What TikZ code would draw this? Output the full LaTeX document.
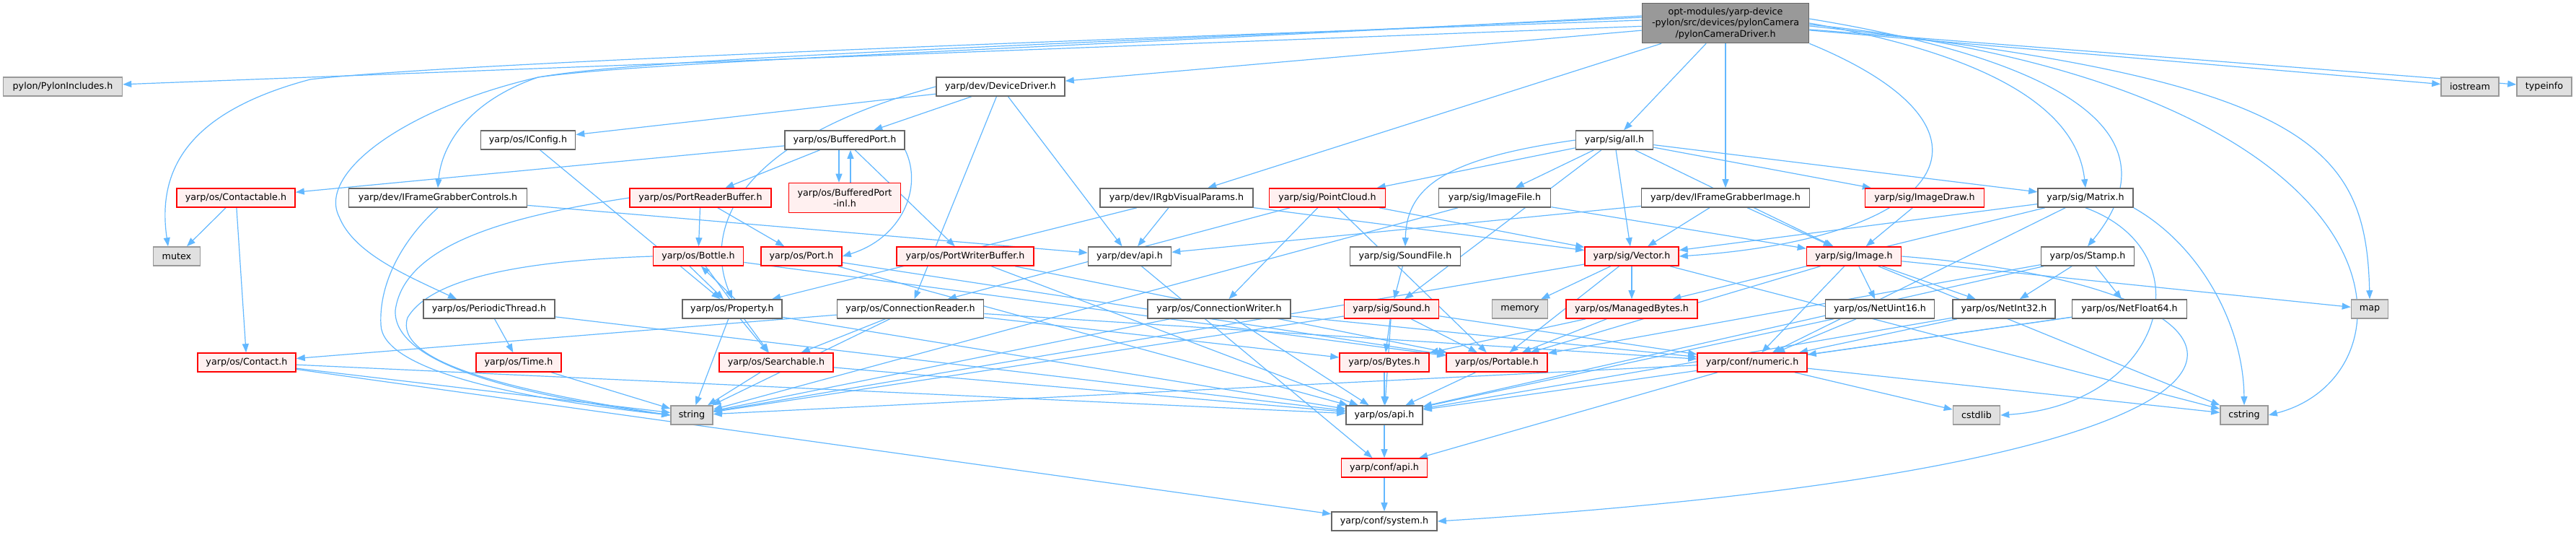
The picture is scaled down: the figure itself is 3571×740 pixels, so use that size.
\documentclass[tikz,border=0pt]{standalone}
\usepackage{fontspec}
\setmainfont{DejaVu Sans}
\usetikzlibrary{arrows.meta,backgrounds}
\definecolor{edgeblue}{RGB}{99,184,255}
\definecolor{hdrline}{RGB}{102,102,102}
\definecolor{redfill}{RGB}{255,240,240}
\definecolor{sysfill}{RGB}{224,224,224}
\definecolor{sysline}{RGB}{153,153,153}
\definecolor{mainfill}{RGB}{153,153,153}
\tikzset{
  hdr/.style={draw=hdrline, fill=white, line width=1.6pt, minimum height=26pt,
    inner sep=2pt, font=\fontsize{12.7}{15.5}\selectfont},
  redhdr/.style={hdr, draw=red, fill=redfill},
  syshdr/.style={hdr, draw=sysline, fill=sysfill},
  mainhdr/.style={hdr, fill=mainfill, align=center},
  dep/.style={edgeblue, line width=1.2pt, -{Triangle[length=12pt,width=9pt]}}
}
\begin{document}
\begin{tikzpicture}[x=1pt,y=-1pt]
  \useasboundingbox (0,0) rectangle (3571,740);
  % Wurzel
  \node[mainhdr, minimum width=231pt, minimum height=55pt] (main) at (2392,32)
    {opt-modules/yarp-device\\-pylon/src/devices/pylonCamera\\/pylonCameraDriver.h};
  % Ebene 1
  \node[syshdr, minimum width=165pt] (pylon) at (87,120) {pylon/PylonIncludes.h};
  \node[hdr, minimum width=178pt] (dd) at (1387,120) {yarp/dev/DeviceDriver.h};
  \node[syshdr, minimum width=80pt] (iostream) at (3424,120) {iostream};
  \node[syshdr, minimum width=76pt] (typeinfo) at (3527,120) {typeinfo};
  % Ebene 2
  \node[hdr, minimum width=131pt] (iconfig) at (732,194) {yarp/os/IConfig.h};
  \node[hdr, minimum width=166pt] (bport) at (1171,194) {yarp/os/BufferedPort.h};
  \node[hdr, minimum width=107pt] (sigall) at (2238,194) {yarp/sig/all.h};
  % Ebene 3
  \node[redhdr, minimum width=164pt] (contactable) at (327,274) {yarp/os/Contactable.h};
  \node[hdr, minimum width=247pt] (fgcontrols) at (607,274) {yarp/dev/IFrameGrabberControls.h};
  \node[redhdr, minimum width=196pt] (preader) at (971,274) {yarp/os/PortReaderBuffer.h};
  \node[redhdr, minimum width=155pt, minimum height=41pt, align=center] (bportinl) at (1171,274)
    {yarp/os/BufferedPort\\-inl.h};
  \node[hdr, minimum width=212pt] (rgbvis) at (1631,274) {yarp/dev/IRgbVisualParams.h};
  \node[redhdr, minimum width=161pt] (pointcloud) at (1840,274) {yarp/sig/PointCloud.h};
  \node[hdr, minimum width=155pt] (imagefile) at (2072,274) {yarp/sig/ImageFile.h};
  \node[hdr, minimum width=233pt] (fgimage) at (2392,274) {yarp/dev/IFrameGrabberImage.h};
  \node[redhdr, minimum width=165pt] (imagedraw) at (2668,274) {yarp/sig/ImageDraw.h};
  \node[hdr, minimum width=132pt] (matrix) at (2891,274) {yarp/sig/Matrix.h};
  % Ebene 4
  \node[syshdr, minimum width=65pt] (mutex) at (245,355) {mutex};
  \node[redhdr, minimum width=125pt] (bottle) at (968,355) {yarp/os/Bottle.h};
  \node[redhdr, minimum width=112pt] (port) at (1111,355) {yarp/os/Port.h};
  \node[redhdr, minimum width=190pt] (pwriter) at (1338,355) {yarp/os/PortWriterBuffer.h};
  \node[hdr, minimum width=115pt] (devapi) at (1566,355) {yarp/dev/api.h};
  \node[hdr, minimum width=153pt] (soundfile) at (1948,355) {yarp/sig/SoundFile.h};
  \node[redhdr, minimum width=130pt] (vector) at (2262,355) {yarp/sig/Vector.h};
  \node[redhdr, minimum width=131pt] (image) at (2570,355) {yarp/sig/Image.h};
  \node[hdr, minimum width=129pt] (stamp) at (2894,355) {yarp/os/Stamp.h};
  % Ebene 5
  \node[hdr, minimum width=182pt] (periodic) at (678,428) {yarp/os/PeriodicThread.h};
  \node[hdr, minimum width=138pt] (property) at (1015,428) {yarp/os/Property.h};
  \node[hdr, minimum width=203pt] (creader) at (1262,428) {yarp/os/ConnectionReader.h};
  \node[hdr, minimum width=198pt] (cwriter) at (1690,428) {yarp/os/ConnectionWriter.h};
  \node[redhdr, minimum width=131pt] (sound) at (1929,428) {yarp/sig/Sound.h};
  \node[syshdr, minimum width=77pt] (memory) at (2107,428) {memory};
  \node[redhdr, minimum width=182pt] (managed) at (2262,428) {yarp/os/ManagedBytes.h};
  \node[hdr, minimum width=151pt] (netuint16) at (2606,428) {yarp/os/NetUint16.h};
  \node[hdr, minimum width=142pt] (netint32) at (2778,428) {yarp/os/NetInt32.h};
  \node[hdr, minimum width=159pt] (netfloat64) at (2952,428) {yarp/os/NetFloat64.h};
  \node[syshdr, minimum width=51pt] (map) at (3285,428) {map};
  % Ebene 6
  \node[redhdr, minimum width=136pt] (contact) at (342,502) {yarp/os/Contact.h};
  \node[redhdr, minimum width=118pt] (time) at (719,502) {yarp/os/Time.h};
  \node[redhdr, minimum width=158pt] (searchable) at (1076,502) {yarp/os/Searchable.h};
  \node[redhdr, minimum width=124pt] (bytes) at (1919,502) {yarp/os/Bytes.h};
  \node[redhdr, minimum width=140pt] (portable) at (2075,502) {yarp/os/Portable.h};
  \node[redhdr, minimum width=152pt] (numeric) at (2429,502) {yarp/conf/numeric.h};
  % Ebene 7-9
  \node[syshdr, minimum width=58pt] (string) at (959,575) {string};
  \node[hdr, minimum width=106pt] (osapi) at (1919,575) {yarp/os/api.h};
  \node[syshdr, minimum width=65pt] (cstdlib) at (2740,575) {cstdlib};
  \node[syshdr, minimum width=66pt] (cstring) at (3111,575) {cstring};
  \node[redhdr, minimum width=119pt] (confapi) at (1919,648) {yarp/conf/api.h};
  \node[hdr, minimum width=146pt] (system) at (1919,722) {yarp/conf/system.h};

  \begin{pgfonlayer}{background}
  % gerade Kanten
  \foreach \a/\b in {main/pylon, main/dd, main/rgbvis, main/sigall, main/fgimage,
      main/iostream, main/typeinfo, dd/iconfig, dd/bport, dd/devapi, dd/creader,
      iconfig/property, bport/contactable, bport/preader, bport/pwriter,
      preader/bottle, preader/port, contactable/mutex, contactable/contact,
      fgcontrols/devapi, rgbvis/devapi, rgbvis/property, rgbvis/vector,
      pointcloud/vector, pointcloud/creader, pointcloud/cwriter, pointcloud/portable,
      imagefile/image, imagefile/string, fgimage/vector, fgimage/image, fgimage/devapi,
      imagedraw/image, sigall/pointcloud, sigall/imagefile, sigall/vector, sigall/image,
      sigall/imagedraw, sigall/matrix, sigall/sound, bottle/searchable,
      bottle/portable, port/osapi, port/portable, pwriter/portable, pwriter/osapi,
      devapi/confapi, soundfile/sound, vector/memory, vector/managed, vector/portable,
      vector/string, vector/cstring, image/netuint16, image/netint32, image/portable,
      image/numeric, image/map, image/cstring, stamp/netint32, stamp/netfloat64,
      stamp/portable, stamp/osapi, periodic/time, periodic/osapi, property/searchable,
      property/string, property/osapi, creader/contact, creader/searchable, creader/string,
      creader/bytes, creader/numeric, cwriter/string, cwriter/numeric, cwriter/osapi,
      sound/portable, sound/bytes, sound/numeric, sound/string, sound/osapi,
      managed/bytes, managed/portable, netuint16/numeric, netuint16/osapi,
      netint32/numeric, netint32/osapi, netfloat64/numeric, netfloat64/osapi,
      contact/string, contact/osapi, contact/system, time/string, searchable/string,
      searchable/osapi, bytes/osapi, portable/osapi, numeric/confapi, numeric/cstdlib,
      numeric/cstring, numeric/string, matrix/vector, matrix/managed, matrix/numeric,
      osapi/confapi, confapi/system}
    \draw[dep] (\a) -- (\b);
  % Hin und zurueck
  \draw[dep] ([xshift=-8pt]bport.south) -- ([xshift=-8pt]bportinl.north);
  \draw[dep] ([xshift=8pt]bportinl.north) -- ([xshift=8pt]bport.south);
  \draw[dep] ([xshift=-12pt]bottle.south) -- ([xshift=-12pt]property.north);
  \draw[dep] ([xshift=4pt]property.north) -- ([xshift=4pt]bottle.south);
  % Boegen links
  \draw[dep] ([yshift=4pt]main.west) .. controls (1300,62) and (600,90) .. (430,110)
    .. controls (280,150) and (215,220) .. ([xshift=-12pt]mutex.north);
  \draw[dep] ([yshift=10pt]main.west) .. controls (1400,70) and (900,85) .. (746,107)
    .. controls (650,140) and (612,200) .. (fgcontrols.north);
  \draw[dep] ([yshift=8pt]main.west) .. controls (1400,65) and (900,80) .. (746,107)
    .. controls (560,150) and (440,240) .. (470,300)
    .. controls (490,350) and (560,380) .. ([xshift=-45pt]periodic.north);
  \draw[dep] (dd.west) .. controls (1000,200) and (980,330) .. (property.north);
  \draw[dep] (bport.south east) .. controls (1280,260) and (1250,330) .. (port.east);
  \draw[dep] (fgcontrols.south) .. controls (560,330) and (525,390) .. (528,450)
    .. controls (530,510) and (700,550) .. (string.west);
  \draw[dep] (preader.west) .. controls (700,300) and (560,340) .. (548,430)
    .. controls (545,500) and (700,545) .. (string.west);
  \draw[dep] (bottle.west) .. controls (750,360) and (600,380) .. (565,440)
    .. controls (545,500) and (700,540) .. (string.west);
  % Boegen rechts
  \draw[dep] (sigall.west) .. controls (2000,220) and (1950,260) .. (soundfile.north);
  \draw[dep] (main.east) .. controls (2780,80) and (2880,160) .. (matrix.north);
  \draw[dep] ([yshift=6pt]main.east) .. controls (2900,90) and (3010,200) .. (stamp.north);
  \draw[dep] (main.south east) .. controls (2800,180) and (2700,330) .. (vector.east);
  \draw[dep] ([yshift=-4pt]main.east) .. controls (3200,110) and (3280,200) .. (map.north);
  \draw[dep] ([yshift=-2pt]main.east) .. controls (3360,120) and (3360,520) .. (cstring.east);
  \draw[dep] (matrix.south) .. controls (3060,350) and (3000,560) .. (cstdlib.east);
  \draw[dep] (matrix.south east) .. controls (3050,340) and (3110,450) .. (cstring.north);
  \draw[dep] (image.east) .. controls (3200,400) and (3300,640) .. (system.east);
  \end{pgfonlayer}
\end{tikzpicture}
\end{document}
